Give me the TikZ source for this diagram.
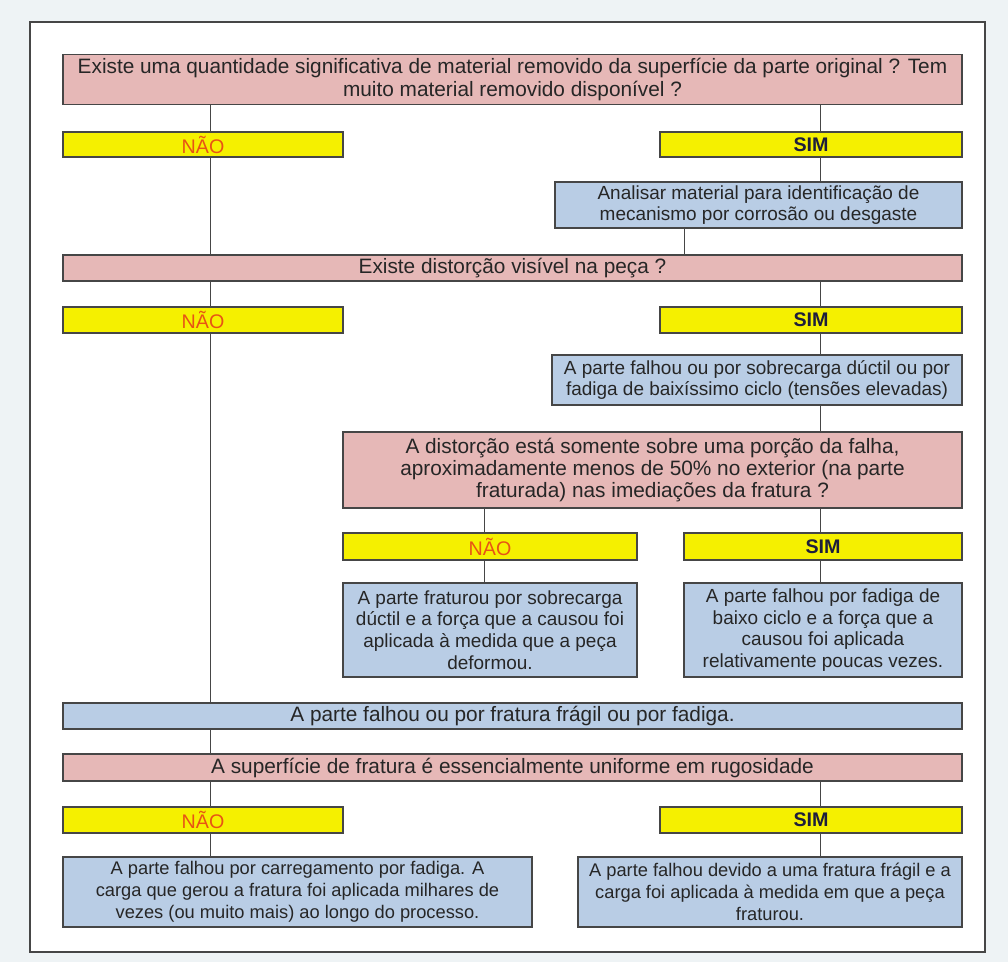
\documentclass[tikz,border=0pt]{standalone}
\usepackage{fontspec}
\setmainfont{Liberation Sans}
\definecolor{pinkq}{RGB}{230,184,183}
\definecolor{yelans}{RGB}{245,240,0}
\definecolor{bluer}{RGB}{185,205,229}
\definecolor{naocol}{RGB}{232,84,20}
\definecolor{simcol}{RGB}{30,30,60}
\definecolor{edgecol}{RGB}{70,70,70}
\definecolor{bgcol}{RGB}{238,243,245}
\newcommand{\px}{0.025cm}
\tikzset{
  basebox/.style={draw=edgecol, line width=.9pt, inner sep=0pt, align=center,
    text=black!85, font=\fontsize{13.5}{15.4}\selectfont},
  qbox/.style={basebox, fill=pinkq, font=\fontsize{14.8}{15.8}\selectfont},
  ansbox/.style={basebox, fill=yelans, font=\fontsize{14}{15.4}\selectfont},
  rbox/.style={basebox, fill=bluer},
  widebox/.style={rbox, font=\fontsize{14.8}{15.8}\selectfont},
  endbox/.style={rbox, font=\fontsize{13}{15.6}\selectfont},
  wd/.style={minimum width=#1*\px},
  ht/.style={minimum height=#1*\px},
  nao/.style={ansbox, text=naocol},
  sim/.style={ansbox, text=simcol, font=\fontsize{14}{15.4}\selectfont\bfseries}
}
\begin{document}
\begin{tikzpicture}[x=\px,y=-\px]
        \useasboundingbox (0,0) rectangle (1008,962);
        \fill[bgcol] (0,0) rectangle (1008,962);
        \draw[edgecol, line width=1.2pt, fill=white] (30,22) rectangle (985,952);

        \node[qbox, wd=899, ht=50] (q1) at (512.5,79.5)
          {Existe uma quantidade significativa de material removido da superfície da parte original ? Tem\\
           muito material removido disponível ?};
        \node[nao, wd=280, ht=25] (n1) at (203,144.5) {NÃO};
        \node[sim, wd=302, ht=25] (s1) at (811,144.5) {SIM};
        \node[rbox, wd=407, ht=46] (an) at (758.5,205)
          {Analisar material para identificação de\\ mecanismo por corrosão ou desgaste};

        \node[qbox, wd=899, ht=26] (q2) at (512.5,268) {Existe distorção visível na peça ?};
        \node[nao, wd=280, ht=26] (n2) at (203,320) {NÃO};
        \node[sim, wd=302, ht=26] (s2) at (811,320) {SIM};
        \node[rbox, wd=410, ht=50] (fa) at (757,380)
          {A parte falhou ou por sobrecarga dúctil ou por\\ fadiga de baixíssimo ciclo (tensões elevadas)};

        \node[qbox, wd=619, ht=76] (q3) at (652.5,470)
          {A distorção está somente sobre uma porção da falha,\\
           aproximadamente menos de 50\% no exterior (na parte\\
           fraturada) nas imediações da fratura ?};
        \node[nao, wd=294, ht=27] (n3) at (490,546.5) {NÃO};
        \node[sim, wd=278, ht=27] (s3) at (823,546.5) {SIM};
        \node[rbox, wd=294, ht=94] (d1) at (490,630)
          {A parte fraturou por sobrecarga\\ dúctil e a força que a causou foi\\
           aplicada à medida que a peça\\ deformou.};
        \node[rbox, wd=278, ht=94] (d2) at (823,630)
          {A parte falhou por fadiga de\\ baixo ciclo e a força que a\\
           causou foi aplicada\\ relativamente poucas vezes.};

        \node[widebox, wd=899, ht=26] (ff) at (512.5,716) {A parte falhou ou por fratura frágil ou por fadiga.};
        \node[qbox, wd=899, ht=27] (q4) at (512.5,767.5)
          {A superfície de fratura é essencialmente uniforme em rugosidade};
        \node[nao, wd=280, ht=26] (n4) at (203,820) {NÃO};
        \node[sim, wd=302, ht=26] (s4) at (811,820) {SIM};
        \node[endbox, wd=469, ht=70] (e1) at (297.5,892)
          {A parte falhou por carregamento por fadiga. A\\
           carga que gerou a fratura foi aplicada milhares de\\
           vezes (ou muito mais) ao longo do processo.};
        \node[endbox, wd=384, ht=70] (e2) at (770,892)
          {A parte falhou devido a uma fratura frágil e a\\
           carga foi aplicada à medida em que a peça\\ fraturou.};

        \coordinate (cl) at (210,0);
        \coordinate (cr) at (820,0);
        \coordinate (cm) at (484,0);
        \coordinate (ca) at (684,0);
        \foreach \a/\b in {q1/n1,n1/q2,q2/n2,n2/ff,ff/q4,q4/n4,n4/e1}
          \draw[edgecol] (\a.south -| cl) -- (\b.north -| cl);
        \foreach \a/\b in {q1/s1,s1/an,q2/s2,s2/fa,fa/q3,q3/s3,s3/d2,q4/s4,s4/e2}
          \draw[edgecol] (\a.south -| cr) -- (\b.north -| cr);
        \draw[edgecol] (an.south -| ca) -- (q2.north -| ca);
        \draw[edgecol] (q3.south -| cm) -- (n3.north -| cm);
        \draw[edgecol] (n3.south -| cm) -- (d1.north -| cm);

      \end{tikzpicture}
\end{document}
